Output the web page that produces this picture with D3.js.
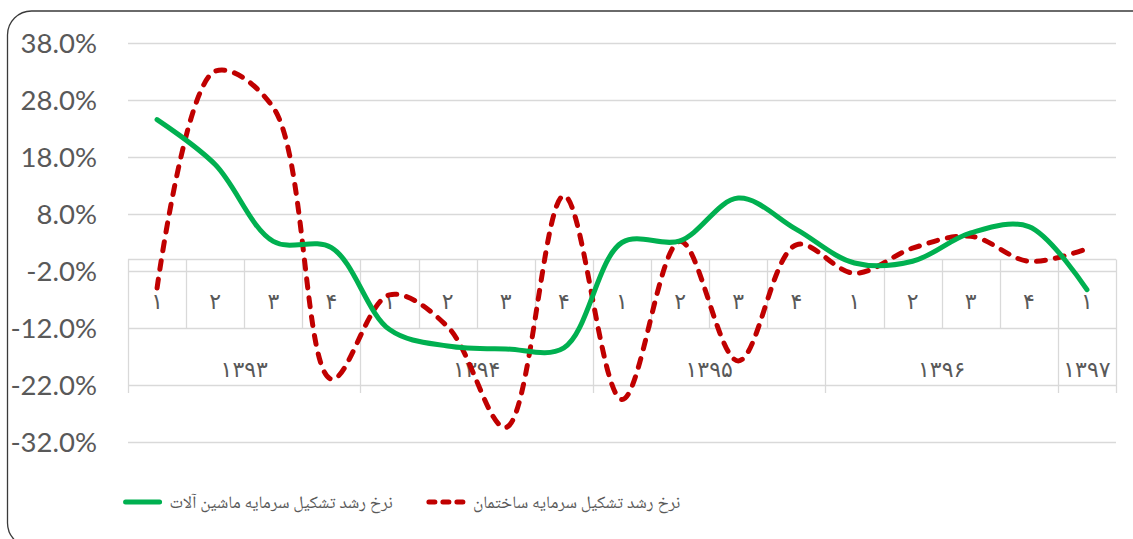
<!DOCTYPE html>
<html>
<head>
<meta charset="utf-8">
<script src="https://cdn.jsdelivr.net/npm/d3@7"></script>
<style>
  html, body { margin: 0; padding: 0; background: #fff; }
  svg { display: block; }
</style>
</head>
<body>
<svg id="chart" width="1133" height="539"></svg>
<script>
// ---- data ----
const quarterLabels = ["۱","۲","۳","۴","۱","۲","۳","۴","۱","۲","۳","۴","۱","۲","۳","۴","۱"];
const yearLabels = ["۱۳۹۳","۱۳۹۴","۱۳۹۵","۱۳۹۶","۱۳۹۷"];
const yearSpans = [4, 4, 4, 4, 1];
const machinery = [24.6, 16.7, 3.2, 2.1, -12.3, -15.2, -15.7, -15.5, 3.0, 3.3, 10.8, 5.3, -0.6, -0.3, 4.7, 5.8, -5.3];
const construction = [-5.0, 33.1, 26.7, -21.0, -6.2, -11.8, -29.5, 11.2, -24.6, 3.2, -17.8, 2.6, -2.4, 2.0, 4.1, -0.3, 1.9];
const yTicks = [38, 28, 18, 8, -2, -12, -22, -32];
const seriesNames = ["نرخ رشد تشکیل سرمایه ماشین آلات", "نرخ رشد تشکیل سرمایه ساختمان"];

const svg = d3.select("#chart");
const idx = d3.range(quarterLabels.length);

const x = d3.scaleBand().domain(idx).range([128, 1116]).padding(0);
const y = d3.scaleLinear().domain([-32, 38]).range([441.7, 43.3]);
const gridColor = "#d9d9d9";
const textColor = "#595959";
const arabicFont = "'Noto Naskh Arabic', 'Noto Sans Arabic', 'DejaVu Sans', sans-serif";

// border
svg.append("rect")
  .attr("x", 7.5).attr("y", 11).attr("width", 1150).attr("height", 536)
  .attr("rx", 24).attr("ry", 24)
  .attr("fill", "#fff").attr("stroke", "#3a3a3a").attr("stroke-width", 1.3);

// gridlines
svg.append("g").selectAll("line").data(yTicks).join("line")
  .attr("x1", 128).attr("x2", 1116)
  .attr("y1", d => Math.round(y(d)) + 0.5).attr("y2", d => Math.round(y(d)) + 0.5)
  .attr("stroke", gridColor).attr("stroke-width", 1.3);

// y labels
svg.append("g").selectAll("text").data(yTicks).join("text")
  .attr("x", 97).attr("y", d => y(d))
  .attr("dy", "0.36em")
  .attr("text-anchor", "end")
  .attr("font-family", "Lato, 'Open Sans', sans-serif")
  .attr("font-size", 27.5)
  .attr("fill", textColor)
  .text(d => d.toFixed(1) + "%");

// category axis table
const axisTop = Math.round(y(-2) - 11.5) + 0.5;
const qBottom = Math.round(y(-12)) + 0.5;
const yBottom = Math.round(y(-22)) + 8;
const axisG = svg.append("g").attr("stroke", gridColor).attr("stroke-width", 1.3);
axisG.append("line").attr("x1", 128).attr("x2", 1116).attr("y1", axisTop).attr("y2", axisTop);

const yearBounds = [0];
yearSpans.forEach(s => yearBounds.push(yearBounds[yearBounds.length - 1] + s));
const boundaryIdx = d3.range(quarterLabels.length + 1);
const bx = i => Math.round(i < quarterLabels.length ? x(i) : x(i - 1) + x.bandwidth()) + 0.5;
axisG.selectAll("line.b").data(boundaryIdx).join("line")
  .attr("class", "b")
  .attr("x1", bx).attr("x2", bx)
  .attr("y1", axisTop)
  .attr("y2", i => yearBounds.includes(i) ? yBottom : qBottom);

// quarter labels
svg.append("g").selectAll("text").data(idx).join("text")
  .attr("x", i => x(i) + x.bandwidth() / 2)
  .attr("y", 301)
  .attr("dy", "0.35em")
  .attr("text-anchor", "middle")
  .attr("font-family", "'DejaVu Sans', sans-serif")
  .attr("font-size", 22)
  .attr("fill", textColor)
  .text(i => quarterLabels[i]);

// year labels
svg.append("g").selectAll("text").data(yearLabels).join("text")
  .attr("x", (d, k) => {
    const a = x(yearBounds[k]);
    const b = x(yearBounds[k + 1] - 1) + x.bandwidth();
    return (a + b) / 2;
  })
  .attr("y", 369)
  .attr("dy", "0.35em")
  .attr("text-anchor", "middle")
  .attr("font-family", "'DejaVu Sans', sans-serif")
  .attr("font-size", 22)
  .attr("fill", textColor)
  .text(d => d);

// lines
const line = d3.line()
  .x((d, i) => x(i) + x.bandwidth() / 2)
  .y(d => y(d))
  .curve(d3.curveCatmullRom.alpha(0.5));

svg.append("path").datum(construction)
  .attr("d", line)
  .attr("fill", "none")
  .attr("stroke", "#c00000")
  .attr("stroke-width", 5)
  .attr("stroke-linecap", "round")
  .attr("stroke-dasharray", "9 10");

svg.append("path").datum(machinery)
  .attr("d", line)
  .attr("fill", "none")
  .attr("stroke", "#00b050")
  .attr("stroke-width", 5)
  .attr("stroke-linecap", "round");

// legend
const legendY = 502;
const leg = svg.append("g");
const legendSeries = [
  { name: seriesNames[0], color: "#00b050", dash: null },
  { name: seriesNames[1], color: "#c00000", dash: "6 8" }
];
const symW = 38, symGap = 8, itemGap = 34, legFont = 17.5;
const items = legendSeries.map(s => {
  const t = leg.append("text")
    .attr("y", 508)
    .attr("direction", "rtl")
    .attr("text-anchor", "start")
    .attr("font-family", arabicFont)
    .attr("font-size", legFont).attr("fill", textColor)
    .text(s.name);
  return { s, t, w: t.node().getComputedTextLength() };
});
const total = d3.sum(items, d => symW + symGap + d.w) + itemGap * (items.length - 1);
let cx = 402 - total / 2;
items.forEach(it => {
  const l = leg.append("line")
    .attr("x1", cx + 2).attr("x2", cx + symW - 2)
    .attr("y1", legendY).attr("y2", legendY)
    .attr("stroke", it.s.color).attr("stroke-width", 5).attr("stroke-linecap", "round");
  if (it.s.dash) l.attr("stroke-dasharray", it.s.dash);
  it.t.attr("x", cx + symW + symGap + it.w);
  cx += symW + symGap + it.w + itemGap;
});
</script>
</body>
</html>
